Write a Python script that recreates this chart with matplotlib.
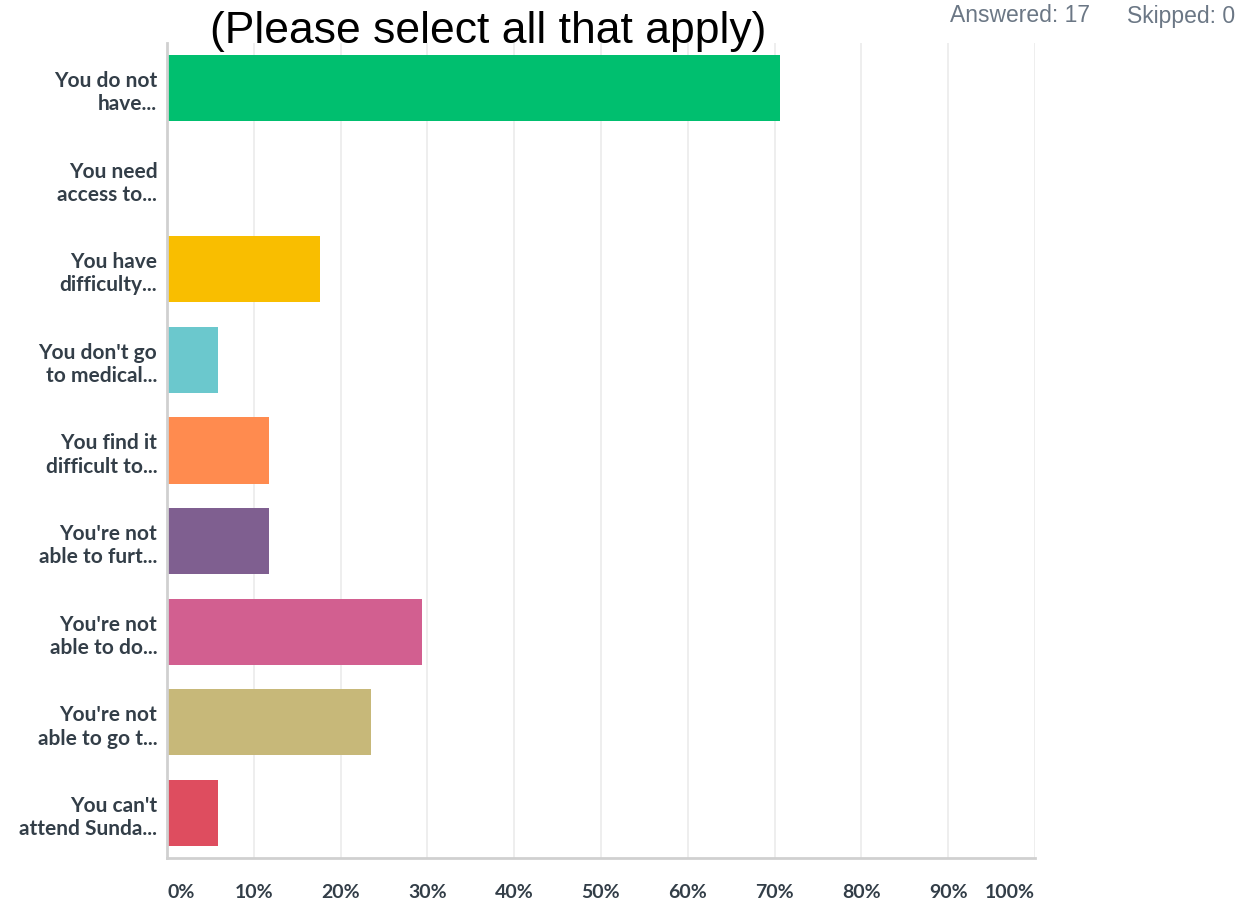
import matplotlib
matplotlib.use("Agg")
import matplotlib.pyplot as plt

categories = [
    "You do not\nhave...",
    "You need\naccess to...",
    "You have\ndifficulty...",
    "You don't go\nto medical...",
    "You find it\ndifficult to...",
    "You're not\nable to furt...",
    "You're not\nable to do...",
    "You're not\nable to go t...",
    "You can't\nattend Sunda...",
]
percentages = [70.59, 0.0, 17.65, 5.88, 11.76, 11.76, 29.41, 23.53, 5.88]
colors = ["#00bf6f", "#507cb6", "#f9be00", "#6bc8cd", "#ff8b4f",
          "#7f5f90", "#d25f90", "#c7b879", "#de4d5f"]
x_ticks = [0, 10, 20, 30, 40, 50, 60, 70, 80, 90, 100]
x_tick_labels = [f"{t}%" for t in x_ticks]

fig = plt.figure(figsize=(12.52, 9.03), dpi=100)
ax = fig.add_axes([167 / 1252, 1 - 859.3 / 903, (1035 - 167) / 1252, (859.3 - 43.7) / 903])

ypos = list(range(len(categories)))
ax.barh(ypos, percentages, height=0.73, color=colors, zorder=3)

ax.set_xlim(0, 100)
ax.set_ylim(len(categories) - 0.5, -0.5)

ax.set_yticks(ypos)
ax.set_yticklabels(categories, fontfamily="Lato", fontweight="bold",
                   fontsize=15, color="#333e48", linespacing=1.2)
ax.tick_params(axis="y", length=0, pad=7)

ax.set_xticks(x_ticks)
ax.set_xticklabels(x_tick_labels, fontfamily="Lato", fontweight="bold",
                   fontsize=14, color="#333e48")
ax.tick_params(axis="x", length=0, pad=18)
xl = ax.get_xticklabels()
xl[0].set_ha("left")
xl[-1].set_ha("right")

ax.grid(axis="x", color="#ebebeb", linewidth=1.2, zorder=0)
ax.grid(axis="y", visible=False)
for side in ("top", "right"):
    ax.spines[side].set_visible(False)
ax.spines["left"].set_color("#d0d0d0")
ax.spines["left"].set_linewidth(2)
ax.spines["bottom"].set_color("#d0d0d0")
ax.spines["bottom"].set_linewidth(2)
ax.spines["left"].set_zorder(4)

fig.text(488 / 1252, 1 - 31 / 903, "(Please select all that apply)",
         ha="center", va="center", fontfamily="Liberation Sans",
         fontsize=32, color="black", zorder=5)
fig.text(1090 / 1252, 1 - 16 / 903, "Answered: 17",
         ha="right", va="center", fontfamily="Liberation Sans",
         fontsize=16.5, color="#6b7785")
fig.text(1235 / 1252, 1 - 16 / 903, "Skipped: 0",
         ha="right", va="center", fontfamily="Liberation Sans",
         fontsize=16.5, color="#6b7785")

fig.savefig("out.png", dpi=100)
